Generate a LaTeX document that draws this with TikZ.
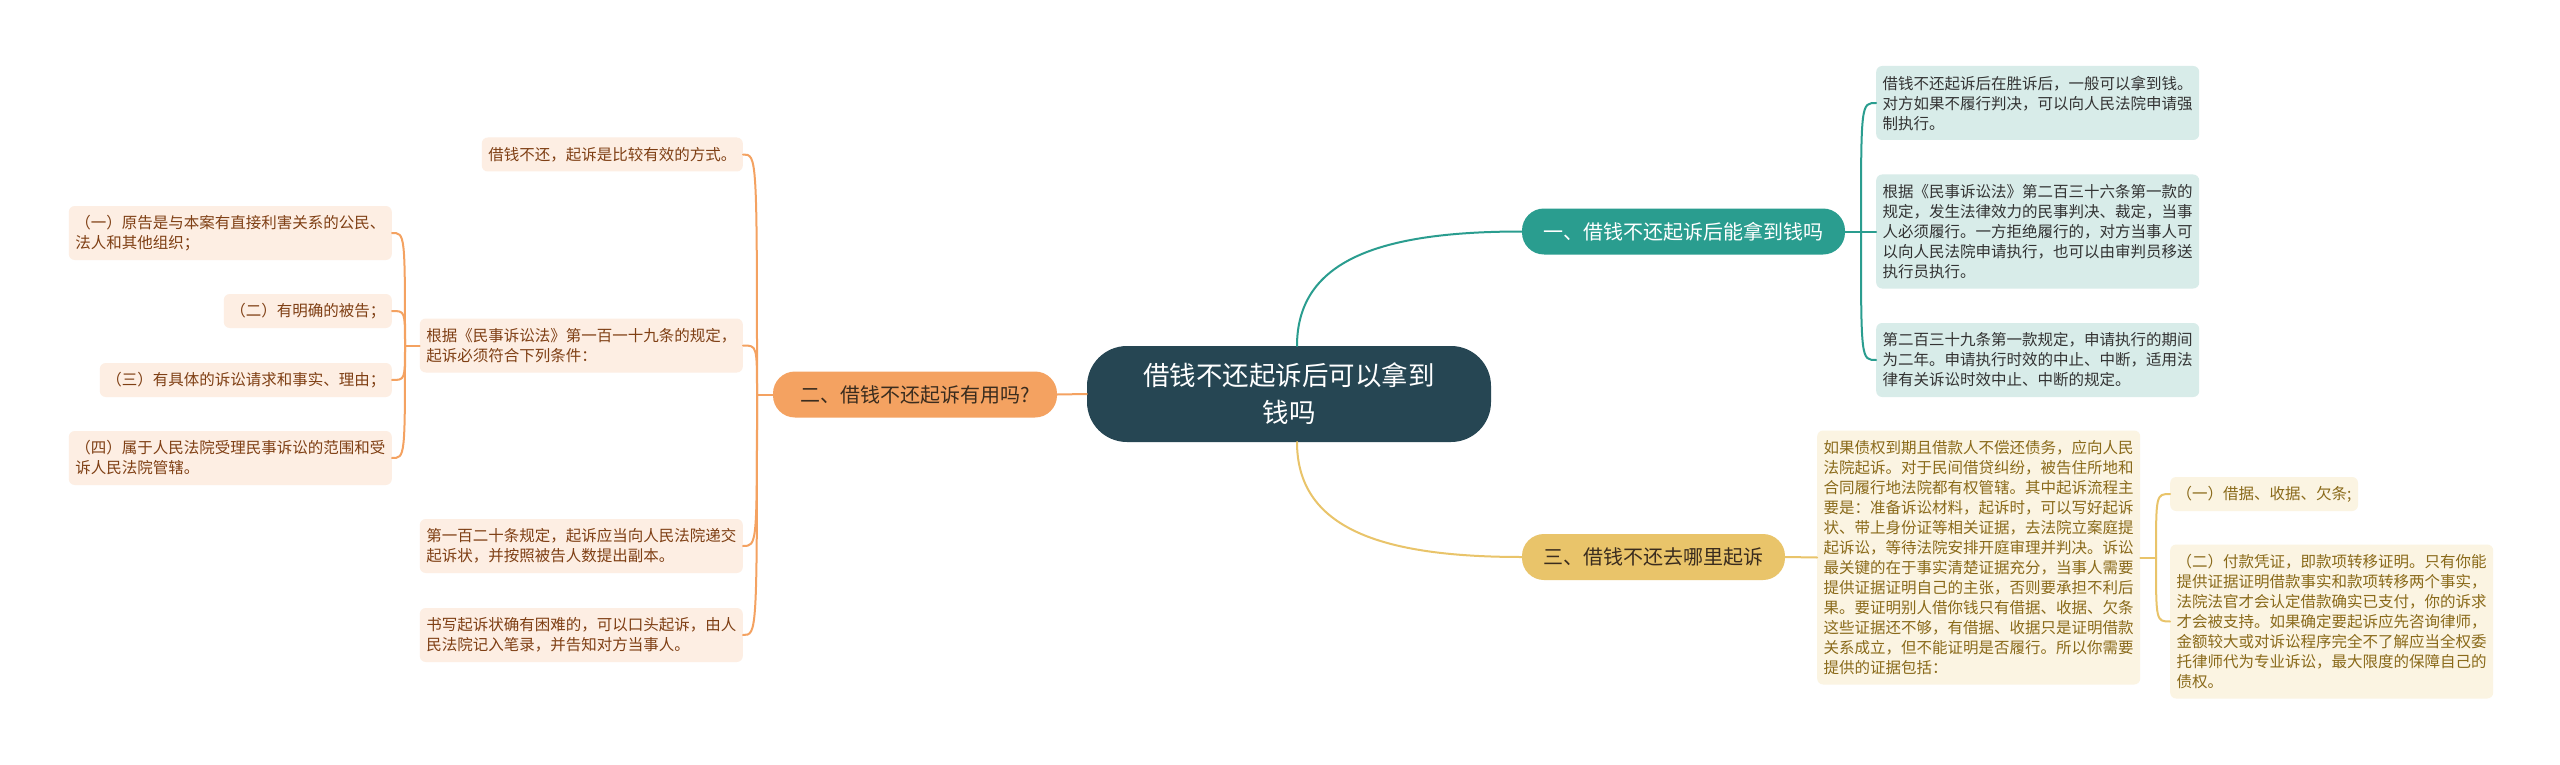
\documentclass[tikz,border=0pt]{standalone}
\usepackage{fontspec}
\newfontfamily\cjk{Noto Sans CJK SC}
\usetikzlibrary{calc}
\definecolor{cdark}{HTML}{264653}
\definecolor{cteal}{HTML}{2A9D8F}
\definecolor{corange}{HTML}{F4A261}
\definecolor{cyellow}{HTML}{E9C46A}
\definecolor{tealfill}{HTML}{D8ECE9}
\definecolor{orangefill}{HTML}{FDEEE3}
\definecolor{yellowfill}{HTML}{FBF4E2}
\definecolor{tealtext}{HTML}{333333}
\definecolor{orangetext}{HTML}{7F3F14}
\definecolor{yellowtext}{HTML}{8A6A1A}
\definecolor{btext}{HTML}{3A2C1E}
\begin{document}
\begin{tikzpicture}[x=1pt,y=-1pt,
  leaf/.style={rounded corners=6pt, inner xsep=6.5pt, inner ysep=1pt, align=left,
    font=\cjk\fontsize{15.5}{20}\selectfont},
  nl/.style={minimum height={(#1-1)*20pt+34pt}},
  tleaf/.style={leaf, fill=tealfill, text=tealtext},
  oleaf/.style={leaf, fill=orangefill, text=orangetext},
  yleaf/.style={leaf, fill=yellowfill, text=yellowtext},
  branch/.style={rounded corners=22pt, minimum height=46pt, inner sep=0pt,
    font=\cjk\fontsize{20}{24}\selectfont},
  rootnode/.style={fill=cdark, text=white, rounded corners=40pt, minimum width=404pt,
    minimum height=96pt, align=center, inner sep=0pt, font=\cjk\fontsize{26.5}{37}\selectfont},
  conn/.style={line width=2pt, line cap=round},
  tconn/.style={conn, draw=cteal},
  oconn/.style={conn, draw=corange},
  yconn/.style={conn, draw=cyellow}
]
\fill[white] (0,0) rectangle (2560,765);
\useasboundingbox (0,0) rectangle (2560,765);

% root and branches
\node[rootnode] (c) at (1289,394) {借钱不还起诉后可以拿到\\钱吗};
\node[branch, fill=cteal, text=white, minimum width=323pt] (b1) at (1683.5,231.5) {一、借钱不还起诉后能拿到钱吗};
\node[branch, fill=corange, text=btext, minimum width=284pt] (b2) at (915,394.5) {二、借钱不还起诉有用吗?};
\node[branch, fill=cyellow, text=btext, minimum width=263pt] (b3) at (1653.5,557) {三、借钱不还去哪里起诉};

% teal leaves
\node[tleaf, nl=3, anchor=west] (t1) at (1876,103) {借钱不还起诉后在胜诉后，一般可以拿到钱。\\对方如果不履行判决，可以向人民法院申请强\\制执行。};
\node[tleaf, nl=5, anchor=west] (t2) at (1876,231.5) {根据《民事诉讼法》第二百三十六条第一款的\\规定，发生法律效力的民事判决、裁定，当事\\人必须履行。一方拒绝履行的，对方当事人可\\以向人民法院申请执行，也可以由审判员移送\\执行员执行。};
\node[tleaf, nl=3, anchor=west] (t3) at (1876,360) {第二百三十九条第一款规定，申请执行的期间\\为二年。申请执行时效的中止、中断，适用法\\律有关诉讼时效中止、中断的规定。};

% orange leaves
\node[oleaf, nl=1, anchor=east] (o1) at (743,154.5) {借钱不还，起诉是比较有效的方式。};
\node[oleaf, nl=2, anchor=east] (o2) at (743,345.5) {根据《民事诉讼法》第一百一十九条的规定，\\起诉必须符合下列条件：};
\node[oleaf, nl=2, anchor=east] (o3) at (743,546) {第一百二十条规定，起诉应当向人民法院递交\\起诉状，并按照被告人数提出副本。};
\node[oleaf, nl=2, anchor=east] (o4) at (743,635) {书写起诉状确有困难的，可以口头起诉，由人\\民法院记入笔录，并告知对方当事人。};
\node[oleaf, nl=2, anchor=east] (p1) at (392,233) {（一）原告是与本案有直接利害关系的公民、\\法人和其他组织；};
\node[oleaf, nl=1, anchor=east] (p2) at (392,311) {（二）有明确的被告；};
\node[oleaf, nl=1, anchor=east] (p3) at (392,380) {（三）有具体的诉讼请求和事实、理由；};
\node[oleaf, nl=2, anchor=east] (p4) at (392,458) {（四）属于人民法院受理民事诉讼的范围和受\\诉人民法院管辖。};

% yellow leaves
\node[yleaf, nl=12, anchor=west] (y0) at (1817,557.5) {如果债权到期且借款人不偿还债务，应向人民\\法院起诉。对于民间借贷纠纷，被告住所地和\\合同履行地法院都有权管辖。其中起诉流程主\\要是：准备诉讼材料，起诉时，可以写好起诉\\状、带上身份证等相关证据，去法院立案庭提\\起诉讼，等待法院安排开庭审理并判决。诉讼\\最关键的在于事实清楚证据充分，当事人需要\\提供证据证明自己的主张，否则要承担不利后\\果。要证明别人借你钱只有借据、收据、欠条\\这些证据还不够，有借据、收据只是证明借款\\关系成立，但不能证明是否履行。所以你需要\\提供的证据包括：};
\node[yleaf, nl=1, anchor=west] (y1) at (2170,494) {（一）借据、收据、欠条;};
\node[yleaf, nl=7, anchor=west] (y2) at (2170,621.5) {（二）付款凭证，即款项转移证明。只有你能\\提供证据证明借款事实和款项转移两个事实，\\法院法官才会认定借款确实已支付，你的诉求\\才会被支持。如果确定要起诉应先咨询律师，\\金额较大或对诉讼程序完全不了解应当全权委\\托律师代为专业诉讼，最大限度的保障自己的\\债权。};

% hubs
\coordinate (h1) at (1861,231.5);
\coordinate (h2) at (757,394.5);
\coordinate (h3) at (405,345.5);
\coordinate (h4) at (2156,557.5);
\coordinate (ctop) at (1297,346);
\coordinate (cbot) at (1297,442);

% root connectors
\draw[tconn] (ctop) .. controls (1297,260) and (1380,231.5) .. (b1.west);
\draw[yconn] (cbot) .. controls (1297,528) and (1380,557) .. (b3.west);
\draw[oconn] (c.west) -- (b2.east);

% teal
\draw[tconn] (b1.east) -- (h1);
\draw[tconn] (h1) .. controls (h1|-t1.west) and (h1|-t1.west) .. (t1.west);
\draw[tconn] (h1) -- (t2.west);
\draw[tconn] (h1) .. controls (h1|-t3.west) and (h1|-t3.west) .. (t3.west);

% orange
\draw[oconn] (b2.west) -- (h2);
\foreach \n in {o1,o2,o3,o4}{
  \draw[oconn] (h2) .. controls (h2|-\n.east) and (h2|-\n.east) .. (\n.east);
}
\draw[oconn] (o2.west) -- (h3);
\foreach \n in {p1,p2,p3,p4}{
  \draw[oconn] (h3) .. controls (h3|-\n.east) and (h3|-\n.east) .. (\n.east);
}

% yellow
\draw[yconn] (b3.east) -- (y0.west);
\draw[yconn] (y0.east) -- (h4);
\draw[yconn] (h4) .. controls (h4|-y1.west) and (h4|-y1.west) .. (y1.west);
\draw[yconn] (h4) .. controls (h4|-y2.west) and (h4|-y2.west) .. (y2.west);
\end{tikzpicture}
\end{document}
